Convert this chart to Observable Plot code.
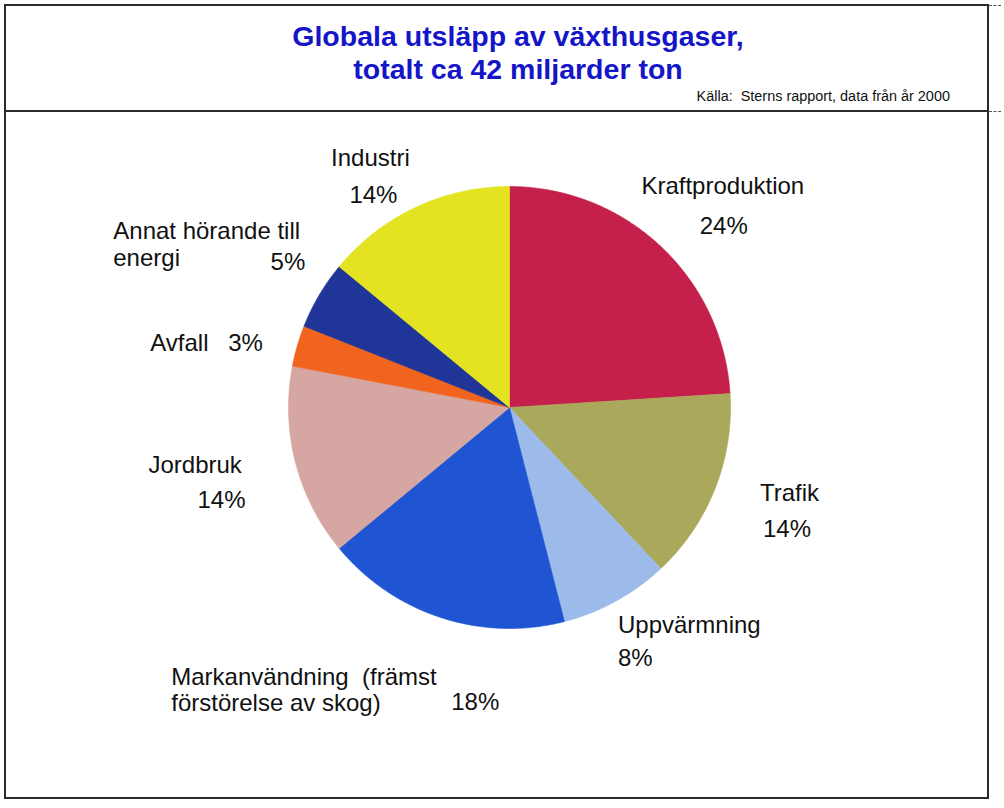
<!DOCTYPE html>
<html>
<head>
<meta charset="utf-8">
<script src="https://cdn.jsdelivr.net/npm/d3@7"></script>
<script src="https://cdn.jsdelivr.net/npm/@observablehq/plot@0.6"></script>
<style>
  html, body { margin: 0; padding: 0; background: #fff; }
  #page { position: relative; width: 1004px; height: 808px; overflow: hidden; font-family: "Liberation Sans", Arial, sans-serif; }
  #frame { position: absolute; left: 4px; top: 4px; width: 981px; height: 791px; border: 2px solid #2a2a2a; }
  #rule { position: absolute; left: 4px; top: 110px; width: 985px; height: 2px; background: #2a2a2a; }
  .stub { position: absolute; height: 1px; width: 12px; left: 989px; border-top: 1px dashed #555; }
  #title { position: absolute; left: 218px; width: 600px; top: 20px; text-align: center; color: #1515c8; font-weight: bold; font-size: 28.5px; line-height: 33px; }
  #source { position: absolute; right: 54px; top: 88px; font-size: 14px; color: #111; white-space: pre; transform: scaleX(1.03); transform-origin: right center; }
  #chart { position: absolute; left: 0; top: 112px; }
</style>
</head>
<body>
<div id="page">
  <div id="frame"></div>
  <div id="rule"></div>
  <div class="stub" style="top:5px"></div>
  <div class="stub" style="top:111px"></div>
  <div id="title">Globala utsläpp av växthusgaser,<br>totalt ca 42 miljarder ton</div>
  <div id="source">Källa:  Sterns rapport, data från år 2000</div>
  <div id="chart"></div>
</div>
<script>
// ---- data ----
const categories = ["Kraftproduktion", "Trafik", "Uppvärmning", "Markanvändning", "Jordbruk", "Avfall", "Annat", "Industri"];
const shares = [24, 14, 8, 18, 14, 3, 5, 14];
const labelNames = ["Kraftproduktion", "Trafik", "Uppvärmning", "Markanvändning  (främst\nförstörelse av skog)", "Jordbruk", "Avfall", "Annat hörande till\nenergi", "Industri"];
const pctLabels = ["24%", "14%", "8%", "18%", "14%", "3%", "5%", "14%"];

// ---- styles ----
const colors = ["#c51f4b", "#aaa85a", "#9dbbea", "#1f55d2", "#d6a7a2", "#f0641e", "#1f3597", "#e3e322"];
// label placement relative to each slice's rim point at mid-angle
const nameLayout = [
  {anchor: "middle", dx: 62, dy: -60, lh: 1},
  {anchor: "start", dx: 45, dy: 4, lh: 1},
  {anchor: "start", dx: 2, dy: 24, lh: 1},
  {anchor: "start", dx: -270, dy: 72, lh: 1.08},
  {anchor: "start", dx: -147, dy: 3, lh: 1},
  {anchor: "start", dx: -147, dy: -3, lh: 1},
  {anchor: "start", dx: -206, dy: -51, lh: 1.13},
  {anchor: "middle", dx: -45, dy: -49, lh: 1}
];
const pctLayout = [
  {anchor: "middle", dx: 63, dy: -20},
  {anchor: "start", dx: 48, dy: 40},
  {anchor: "start", dx: 2, dy: 57},
  {anchor: "start", dx: 10, dy: 85},
  {anchor: "start", dx: -98, dy: 38},
  {anchor: "start", dx: -69, dy: -3},
  {anchor: "end", dx: -14, dy: -33},
  {anchor: "middle", dx: -42, dy: -12}
];

// ---- geometry from data ----
const total = d3.sum(shares);
const slices = [];
let acc = 0;
categories.forEach((c, i) => {
  const a0 = acc / total * 2 * Math.PI;
  acc += shares[i];
  const a1 = acc / total * 2 * Math.PI;
  slices.push({name: c, a0, a1, mid: (a0 + a1) / 2, i});
});
const pts = [];
for (const s of slices) {
  pts.push({name: s.name, x: 0, y: 0});
  const n = Math.max(2, Math.ceil((s.a1 - s.a0) / (Math.PI / 360)));
  for (let k = 0; k <= n; k++) {
    const a = s.a0 + (s.a1 - s.a0) * k / n;
    pts.push({name: s.name, x: Math.sin(a), y: Math.cos(a)});
  }
  pts.push({name: s.name, x: 0, y: 0});
}

const cx = 509, cy = 295, r = 221;
const textMarks = [];
slices.forEach((s, i) => {
  const p = [{x: Math.sin(s.mid), y: Math.cos(s.mid)}];
  const nl = nameLayout[i], pl = pctLayout[i];
  textMarks.push(Plot.text(p, {x: "x", y: "y", text: () => labelNames[i], textAnchor: nl.anchor, dx: nl.dx, dy: nl.dy, lineHeight: nl.lh, fontSize: 24, fill: "#111"}));
  textMarks.push(Plot.text(p, {x: "x", y: "y", text: () => pctLabels[i], textAnchor: pl.anchor, dx: pl.dx, dy: pl.dy, fontSize: 24, fill: "#111"}));
});

const chart = Plot.plot({
  width: 1004,
  height: 696,
  style: {fontFamily: "'Liberation Sans', Arial, sans-serif", background: "transparent", overflow: "visible"},
  x: {domain: [-1, 1], range: [cx - r, cx + r], axis: null},
  y: {domain: [-1, 1], range: [cy + r, cy - r], axis: null},
  color: {domain: categories, range: colors},
  marks: [
    Plot.line(pts, {x: "x", y: "y", z: "name", fill: "name", stroke: "name", strokeWidth: 0.6, strokeLinejoin: "miter"}),
    ...textMarks
  ]
});
document.getElementById("chart").appendChild(chart);
</script>
</body>
</html>
